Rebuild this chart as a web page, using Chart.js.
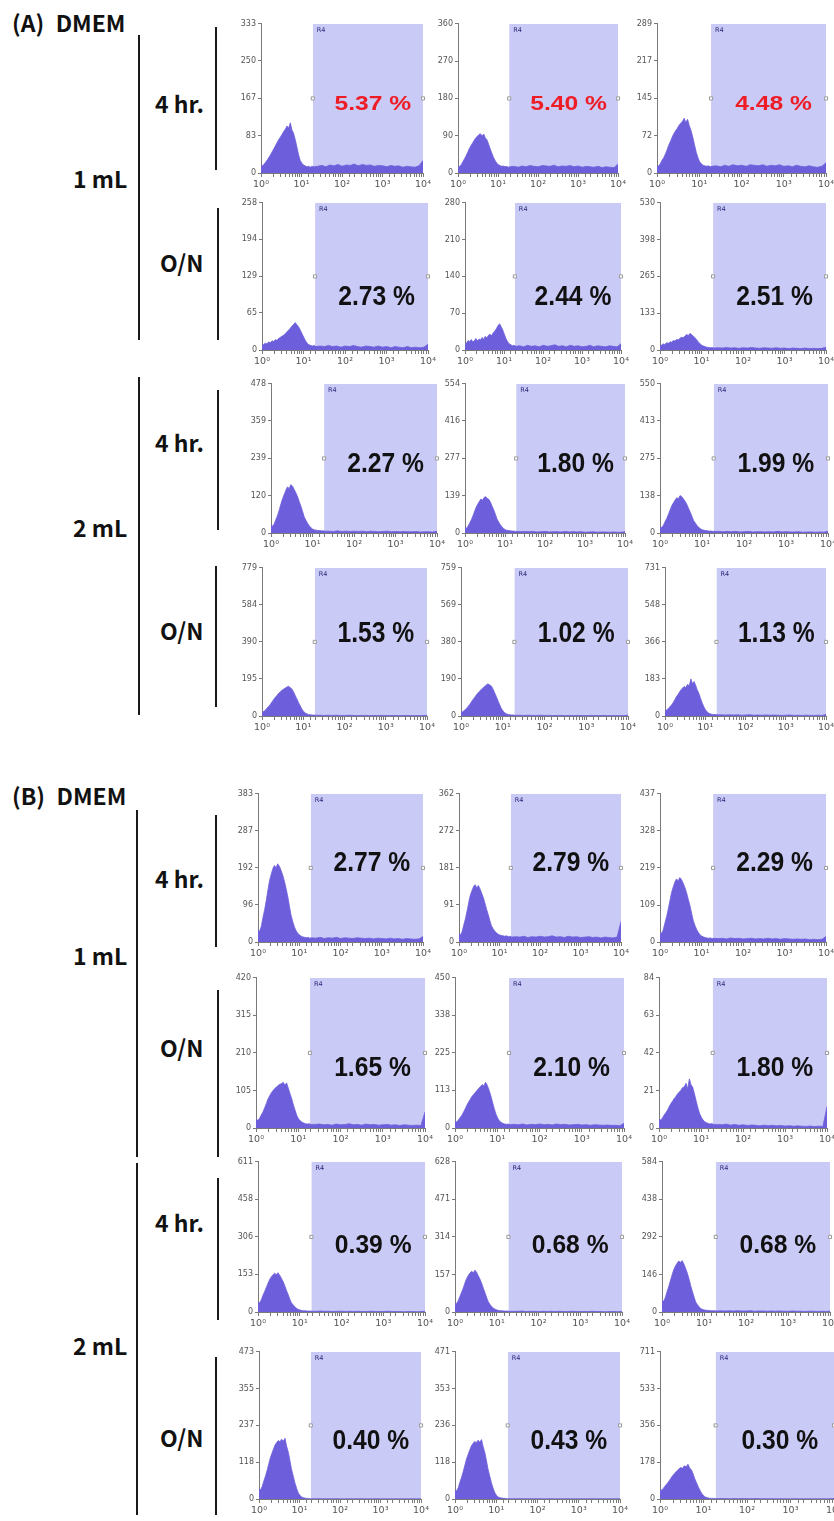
<!DOCTYPE html>
<html>
<head>
<meta charset="utf-8">
<script src="https://cdn.jsdelivr.net/npm/chart.js@4.4.1/dist/chart.umd.min.js"></script>
<style>
  body { margin:0; background:#fff; width:834px; height:1521px; position:relative; overflow:hidden; }
  .lbl { position:absolute; font-family:'Noto Sans CJK JP','Noto Sans',sans-serif; font-weight:700;
         font-size:23px; line-height:1; color:#111; white-space:nowrap; transform:translateY(-50%); }
  .vbar { position:absolute; width:2px; background:#1a1a1a; }
  canvas { position:absolute; }
</style>
</head>
<body>
<script>
// Fluorescence channels (log axis, 10^0 .. 10^4)
const CHANNELS = [1, 1.1, 1.2, 1.3, 1.45, 1.6, 1.75, 1.9, 2.1, 2.3, 2.5, 2.75, 3, 3.3, 3.6, 4, 4.4, 4.8, 5.3, 5.8,
  6.3, 7, 7.7, 8.5, 9.3, 10.2, 11.2, 12.3, 13.5, 15, 16.5, 18, 20,
  25, 32, 40, 50, 63, 80, 100, 130, 160, 200, 250, 320, 400, 500, 630, 800, 1000, 1300, 1600, 2000,
  2500, 3200, 4000, 5000, 6300, 8000, 10000];
const X_TICK_LABELS = { 1: '10\u2070', 10: '10\u00b9', 100: '10\u00b2', 1000: '10\u00b3', 10000: '10\u2074' };
const GATE_START = 19;      // left edge of gate R4
const GATE_NAME = 'R4';

// (A) DMEM — 1 mL, 4 hr.
const A_1mL_4hr = [
  [18,16,20,24,30,36,42,48,55,62,68,75,80,86,92,98,105,100,112,96,90,75,58,40,28,22,18,16,14,15,13,15,14,
   15,17,14,18,16,19,15,18,17,20,16,19,17,18,15,17,16,14,17,15,16,13,15,14,13,16,28],
  [14,16,20,26,34,42,50,58,66,72,78,84,88,92,95,90,94,85,80,70,60,48,38,30,24,20,18,16,17,15,16,14,15,
   16,14,17,15,18,16,15,18,17,16,19,15,17,16,18,15,17,14,16,15,14,16,13,15,14,13,22],
  [12,14,18,24,30,38,46,54,62,70,76,82,86,92,96,100,106,98,104,92,84,70,55,40,30,22,18,15,14,13,14,12,13,
   14,12,15,13,16,14,15,13,16,15,14,16,13,15,14,16,13,14,12,15,13,12,14,12,11,13,20]
];
const A_1mL_4hr_yticks = [[333,250,167,83,0],[360,270,180,90,0],[289,217,145,72,0]];
const A_1mL_4hr_pct = [5.37, 5.40, 4.48];

// (A) DMEM — 1 mL, O/N
const A_1mL_ON = [
  [8,10,12,11,14,13,16,15,18,17,20,22,24,26,28,32,35,38,42,45,48,44,40,34,28,22,16,12,9,8,7,8,6,
   7,6,8,6,7,5,7,6,8,6,5,7,6,5,7,5,6,4,6,5,4,6,4,5,4,5,10],
  [10,14,18,16,20,15,18,22,17,21,19,24,20,26,23,28,30,27,33,36,40,46,50,44,38,30,22,16,12,10,8,9,7,
   8,6,9,7,8,6,9,7,8,10,7,8,6,9,7,8,6,7,9,6,8,7,6,8,7,6,12],
  [14,18,22,20,26,24,30,28,34,32,38,36,42,46,44,50,56,52,60,55,50,44,36,28,22,17,14,12,10,9,8,9,7,
   8,7,9,7,8,6,8,7,9,7,6,8,7,6,8,6,7,5,7,6,5,7,5,6,5,6,10]
];
const A_1mL_ON_yticks = [[258,194,129,65,0],[280,210,140,70,0],[530,398,265,133,0]];
const A_1mL_ON_pct = [2.73, 2.44, 2.51];

// (A) DMEM — 2 mL, 4 hr.
const A_2mL_4hr = [
  [25,22,30,42,58,76,95,110,125,138,148,142,155,150,140,128,115,100,85,68,52,40,30,22,16,12,10,9,8,8,7,7,6,
   6,5,7,5,6,5,6,5,6,4,6,5,4,5,6,4,5,4,5,4,4,5,3,4,4,3,6],
  [20,18,26,36,50,66,82,96,108,118,126,122,132,135,128,124,112,98,84,68,52,40,30,22,16,12,10,9,8,7,7,6,6,
   5,6,5,6,4,5,6,4,5,5,4,6,4,5,4,5,3,4,5,3,4,4,3,4,3,3,5],
  [22,20,28,40,54,70,86,100,112,122,130,126,138,134,126,116,104,90,76,60,46,36,26,20,15,12,10,9,8,7,7,6,6,
   6,5,6,5,6,4,5,6,4,5,5,4,5,4,6,4,5,4,4,5,3,4,4,3,4,3,6]
];
const A_2mL_4hr_yticks = [[478,359,239,120,0],[554,416,277,139,0],[550,413,275,138,0]];
const A_2mL_4hr_pct = [2.27, 1.80, 1.99];

// (A) DMEM — 2 mL, O/N
const A_2mL_ON = [
  [20,24,30,40,50,62,74,86,98,108,118,126,134,140,146,152,156,150,142,128,110,90,70,52,36,24,16,11,8,6,5,5,4,
   4,3,4,3,4,3,3,4,3,2,3,3,2,3,2,3,2,2,3,2,2,3,2,2,2,2,4],
  [18,22,28,36,46,58,70,82,94,106,116,126,134,142,150,158,165,160,154,140,122,100,78,56,38,25,16,11,8,6,5,5,4,
   4,3,4,3,3,4,3,3,2,3,3,2,3,2,3,2,2,3,2,2,3,2,2,2,2,2,4],
  [25,30,36,44,54,66,80,94,106,118,130,138,146,140,155,150,183,160,170,150,130,110,85,62,44,30,20,14,10,8,7,7,6,
   6,5,6,5,6,4,5,6,4,5,4,5,4,5,4,3,4,5,3,4,3,4,3,3,4,3,8]
];
const A_2mL_ON_yticks = [[779,584,390,195,0],[759,569,380,190,0],[731,548,366,183,0]];
const A_2mL_ON_pct = [1.53, 1.02, 1.13];

// (B) DMEM — 1 mL, 4 hr.
const B_1mL_4hr = [
  [30,28,40,60,84,110,136,158,176,190,198,192,202,196,186,172,156,138,116,92,70,52,38,28,22,18,15,13,12,11,12,10,11,
   10,12,9,11,10,12,9,11,10,9,11,10,9,10,8,10,9,8,10,8,9,7,9,8,7,8,14],
  [20,18,26,40,58,78,98,114,126,136,140,132,138,130,120,108,94,80,66,52,40,32,26,22,19,17,16,15,14,15,13,14,12,
   13,12,14,11,13,12,14,12,13,15,12,13,11,14,12,13,11,12,13,11,12,10,12,11,10,12,50],
  [28,26,36,54,76,100,124,146,164,178,186,180,190,184,174,160,144,126,106,84,64,48,36,27,21,17,15,13,12,11,12,10,11,
   10,11,9,12,10,11,9,10,11,9,10,9,11,9,10,8,10,9,8,9,8,9,7,8,7,8,16]
];
const B_1mL_4hr_yticks = [[383,287,192,96,0],[362,272,181,91,0],[437,328,219,109,0]];
const B_1mL_4hr_pct = [2.77, 2.79, 2.29];

// (B) DMEM — 1 mL, O/N
const B_1mL_ON = [
  [23,22,26,34,44,56,68,80,90,98,104,110,114,118,122,124,128,120,126,112,98,82,64,48,34,25,20,16,14,12,11,12,10,
   10,11,9,10,8,11,9,10,12,9,10,8,11,9,10,8,9,10,8,9,7,9,8,7,8,7,45],
  [20,18,24,30,38,48,58,68,78,86,94,100,106,112,118,124,130,126,137,128,116,98,78,58,42,30,22,17,14,12,11,12,10,
   11,10,12,9,11,10,12,10,11,9,12,10,11,9,10,11,9,10,8,10,9,8,9,8,8,7,14],
  [5,4.5,5.5,7,8.5,10,12,13.5,15,16.5,17.5,19,20,21,22.5,23,25,22,27.5,24,23,19,15,11,8,6,4.5,3.5,3,2.5,2.2,2.5,2,
   2,1.8,2.2,1.6,2,1.5,1.8,1.4,1.7,1.5,1.2,1.6,1.3,1.5,1.2,1.4,1.1,1.3,1,1.2,1,0.9,1.1,0.8,1,0.9,12]
];
const B_1mL_ON_yticks = [[420,315,210,105,0],[450,338,225,113,0],[84,63,42,21,0]];
const B_1mL_ON_pct = [1.65, 2.10, 1.80];

// (B) DMEM — 2 mL, 4 hr.
const B_2mL_4hr = [
  [40,38,50,66,84,102,118,132,144,152,158,152,160,150,138,124,106,88,70,52,38,28,20,14,10,8,6,5,5,4,4,4,3,
   3,4,3,3,2,3,3,2,3,2,3,2,2,3,2,2,2,3,2,2,2,1,2,2,1,2,3],
  [38,36,48,64,84,104,124,140,154,164,170,164,175,166,152,136,118,98,78,58,42,30,21,15,11,8,6,5,5,4,4,4,3,
   3,3,4,2,3,3,2,3,2,3,2,3,2,2,3,2,2,2,2,3,2,2,1,2,2,1,3],
  [45,42,56,76,100,124,146,164,180,190,198,192,200,188,172,152,128,104,80,58,40,28,19,13,10,8,7,6,6,5,5,5,4,
   5,4,5,4,5,4,4,5,3,4,4,3,4,3,4,3,3,4,3,3,2,3,3,2,3,2,4]
];
const B_2mL_4hr_yticks = [[611,458,306,153,0],[628,471,314,157,0],[584,438,292,146,0]];
const B_2mL_4hr_pct = [0.39, 0.68, 0.68];

// (B) DMEM — 2 mL, O/N
const B_2mL_ON = [
  [32,30,40,56,74,94,114,132,148,162,174,182,188,184,192,186,195,170,150,124,98,74,52,34,20,12,7,4,3,2,2,1,1,
   1,1,0.5,1,0.5,1,0.5,0.5,1,0.5,0.5,1,0.5,0.5,0.5,1,0.5,0.5,0.5,0.5,0.5,0.5,0.5,0.5,0.5,0.5,1],
  [28,26,36,52,70,90,110,128,144,158,170,178,184,180,188,182,190,168,148,122,96,72,50,32,19,11,6,4,3,2,2,1,1,
   1,1,1,0.5,1,0.5,1,0.5,0.5,1,0.5,0.5,0.5,1,0.5,0.5,0.5,0.5,0.5,1,0.5,0.5,0.5,0.5,0.5,0.5,1],
  [40,44,52,62,74,86,98,110,120,130,138,146,152,148,160,156,168,150,140,120,98,76,56,38,24,15,9,6,4,3,3,2,2,
   2,2,1.5,2,1.5,2,1.5,1.5,2,1,1.5,1,1.5,1,1.5,1,1,1.5,1,1,1,1,1,1,1,1,2]
];
const B_2mL_ON_yticks = [[473,355,237,118,0],[471,353,236,118,0],[711,533,356,178,0]];
const B_2mL_ON_pct = [0.40, 0.43, 0.30];

// ---- page layout ----
const HIST_COLOR = '#6d5fdc';
const GATE_COLOR = '#cacaf7';

const ROWS = [
  { hist: A_1mL_4hr, yt: A_1mL_4hr_yticks, pct: A_1mL_4hr_pct, top: 23, bottom: 173,
    cols: [[261,423],[458,618],[657,826]], frac: 0.46, sy: 0.72, color: '#ee1c25' },
  { hist: A_1mL_ON, yt: A_1mL_ON_yticks, pct: A_1mL_ON_pct, top: 202, bottom: 350,
    cols: [[262,428],[465,621],[660,826]], frac: 0.36, sy: 1.0, color: '#111' },
  { hist: A_2mL_4hr, yt: A_2mL_4hr_yticks, pct: A_2mL_4hr_pct, top: 383, bottom: 533,
    cols: [[271,437],[465,625],[660,828]], frac: 0.46, sy: 1.0, color: '#111' },
  { hist: A_2mL_ON, yt: A_2mL_ON_yticks, pct: A_2mL_ON_pct, top: 567, bottom: 716,
    cols: [[262,427],[461,628],[665,826]], frac: 0.55, sy: 1.03, color: '#111' },
  { hist: B_1mL_4hr, yt: B_1mL_4hr_yticks, pct: B_1mL_4hr_pct, top: 793, bottom: 942,
    cols: [[258,423],[459,621],[660,826]], frac: 0.53, sy: 1.0, color: '#111' },
  { hist: B_1mL_ON, yt: B_1mL_ON_yticks, pct: B_1mL_ON_pct, top: 977, bottom: 1128,
    cols: [[256,425],[455,624],[659,827]], frac: 0.40, sy: 1.0, color: '#111' },
  { hist: B_2mL_4hr, yt: B_2mL_4hr_yticks, pct: B_2mL_4hr_pct, top: 1161, bottom: 1312,
    cols: [[258,425],[455,622],[662,830]], frac: 0.44, sy: 0.92, color: '#111' },
  { hist: B_2mL_ON, yt: B_2mL_ON_yticks, pct: B_2mL_ON_pct, top: 1351, bottom: 1499,
    cols: [[259,421],[455,620],[660,834]], frac: 0.39, sy: 0.96, color: '#111' }
];

// Left-hand group labels and brackets
const LABELS = [
  { t: '(A)\u2002DMEM', x: 12, y: 22 },
  { t: '4 hr.', x: 155, y: 103 }, { t: '1 mL', x: 73, y: 178 },
  { t: 'O/N', x: 160, y: 262 },
  { t: '4 hr.', x: 155, y: 442 }, { t: '2 mL', x: 73, y: 527 },
  { t: 'O/N', x: 160, y: 630 },
  { t: '(B)\u2002DMEM', x: 12, y: 795 },
  { t: '4 hr.', x: 155, y: 878 }, { t: '1 mL', x: 73, y: 955 },
  { t: 'O/N', x: 160, y: 1047 },
  { t: '4 hr.', x: 155, y: 1222 }, { t: '2 mL', x: 73, y: 1345 },
  { t: 'O/N', x: 160, y: 1437 }
];
const BARS = [
  [139, 35, 340], [216, 27, 170], [218, 208, 340],
  [139, 377, 715], [218, 390, 530], [216, 566, 707],
  [137, 810, 1157], [216, 815, 947], [218, 990, 1157],
  [137, 1163, 1515], [218, 1178, 1320], [216, 1357, 1515]
];

LABELS.forEach(l => {
  const d = document.createElement('div');
  d.className = 'lbl'; d.textContent = l.t;
  d.style.left = l.x + 'px'; d.style.top = l.y + 'px';
  document.body.appendChild(d);
});
BARS.forEach(b => {
  const d = document.createElement('div');
  d.className = 'vbar';
  d.style.left = (b[0] - 1) + 'px'; d.style.top = b[1] + 'px'; d.style.height = (b[2] - b[1]) + 'px';
  document.body.appendChild(d);
});

// Gate label + percentage drawn on top of the plot
const gateText = {
  id: 'gateText',
  afterDatasetsDraw(chart, args, o) {
    const { ctx, chartArea: a, scales: { x, y } } = chart;
    const gx = x.getPixelForValue(GATE_START);
    ctx.save();
    ctx.fillStyle = '#2b2b7a';
    ctx.font = '6.5px "DejaVu Sans"';
    ctx.textBaseline = 'middle';
    ctx.fillText(GATE_NAME, gx + 4, a.top + 7);
    const cx = (gx + a.right) / 2 + 5;
    const cy = y.getPixelForValue(o.ymax * o.frac);
    ctx.translate(cx, cy);
    ctx.scale(0.88, o.sy);
    ctx.font = 'bold 28px "Liberation Sans"';
    ctx.textAlign = 'center';
    ctx.fillStyle = o.color;
    ctx.fillText(o.pct.toFixed(2) + ' %', 0, 0);
    ctx.restore();
  }
};

const YW = 30, PT = 6, PR = 10, XH = 22;
const Y_FONT = { size: 8, family: 'DejaVu Sans' };
const X_FONT = { size: 9.5, family: 'DejaVu Sans' };

function panel(L, R, T, B, hist, yticks, pct, row) {
  const cv = document.createElement('canvas');
  const w = R - L + YW + PR, h = B - T + PT + XH;
  cv.width = w; cv.height = h;
  cv.style.left = (L - YW) + 'px'; cv.style.top = (T - PT) + 'px';
  document.body.appendChild(cv);
  const ymax = yticks[0];
  const asc = yticks.slice().sort((p, q) => p - q);
  new Chart(cv, {
    type: 'line',
    data: {
      datasets: [
        { data: [{ x: GATE_START, y: ymax / 2 }, { x: 10000, y: ymax / 2 }], type: 'scatter',
          pointStyle: 'rect', pointRadius: 2.2, backgroundColor: '#fff', borderColor: '#9a9a9a',
          borderWidth: 1, clip: false, order: 0 },
        { data: CHANNELS.map((c, i) => ({ x: c, y: hist[i] })), borderColor: HIST_COLOR,
          backgroundColor: HIST_COLOR, borderWidth: 0.8, fill: 'origin', pointRadius: 0,
          tension: 0, order: 1 },
        { data: [{ x: GATE_START, y: ymax }, { x: 10000, y: ymax }], borderWidth: 0,
          borderColor: GATE_COLOR, backgroundColor: GATE_COLOR, fill: 'origin', pointRadius: 0, order: 2 }
      ]
    },
    options: {
      responsive: false, animation: false, events: [],
      layout: { padding: { top: PT, right: PR, left: 0, bottom: 0 } },
      plugins: {
        legend: { display: false }, tooltip: { enabled: false },
        gateText: { ymax, pct, frac: row.frac, sy: row.sy, color: row.color }
      },
      scales: {
        x: {
          type: 'logarithmic', min: 1, max: 10000,
          afterFit(s) { s.height = XH; },
          grid: { drawOnChartArea: false, drawTicks: true, tickLength: 4, color: '#7a7a7a' },
          border: { color: '#7a7a7a', width: 1 },
          ticks: { autoSkip: false, maxRotation: 0, padding: 2, font: X_FONT, color: '#555',
                   callback: v => X_TICK_LABELS[v] || '' }
        },
        y: {
          type: 'linear', min: 0, max: ymax,
          afterFit(s) { s.width = YW; },
          afterBuildTicks(s) { s.ticks = asc.map(v => ({ value: v })); },
          grid: { drawOnChartArea: false, tickLength: 3, color: '#7a7a7a' },
          border: { color: '#7a7a7a', width: 1 },
          ticks: { font: Y_FONT, color: '#555', padding: 2, callback: v => String(v) }
        }
      }
    },
    plugins: [gateText]
  });
}

ROWS.forEach(row => {
  row.cols.forEach((c, k) => {
    panel(c[0], c[1], row.top, row.bottom, row.hist[k], row.yt[k], row.pct[k], row);
  });
});
</script>
</body>
</html>
